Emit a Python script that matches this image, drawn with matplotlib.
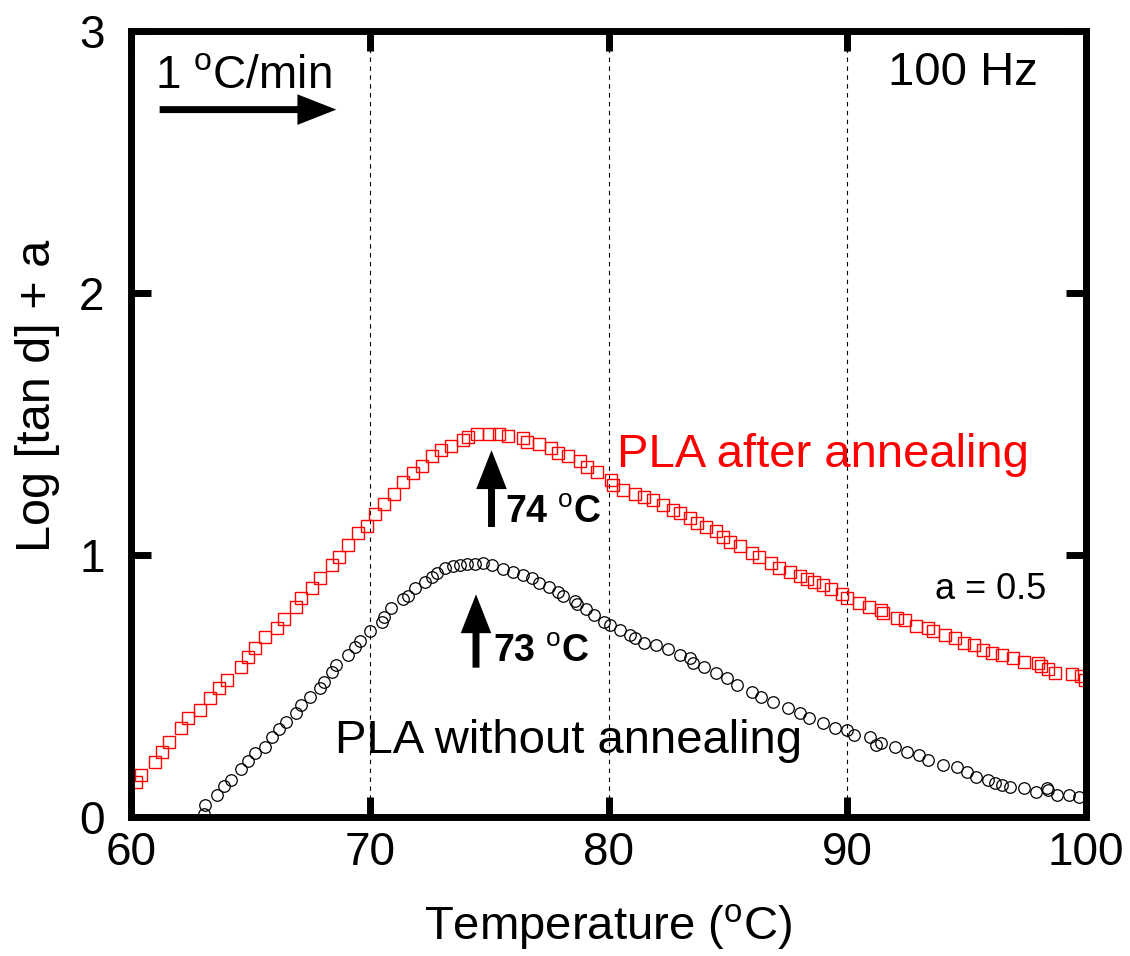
import matplotlib
matplotlib.use("Agg")
import matplotlib.pyplot as plt
import numpy as np

plt.rcParams['font.family'] = ['Liberation Sans', 'DejaVu Sans']
plt.rcParams['mathtext.fontset'] = 'custom'
plt.rcParams['mathtext.rm'] = 'Liberation Sans'
plt.rcParams['mathtext.bf'] = 'Liberation Sans:bold'

# PLA after annealing (red squares), shifted by a = 0.5
temp_after = [60.2, 60.4, 61.0, 61.3, 61.6, 62.1, 62.4, 62.9, 63.3, 63.7, 64.0, 64.6, 64.9,
              65.2, 65.6, 66.1, 66.4, 66.9, 67.1, 67.6, 67.9, 68.4, 68.7, 69.1, 69.5, 69.9,
              70.2, 70.6, 71.0, 71.4, 71.8, 72.2, 72.6, 73.0, 73.4, 73.9, 74.1, 74.5, 75.0,
              75.4, 75.8, 76.4, 76.6, 77.1, 77.6, 77.9, 78.3, 78.8, 79.1, 79.5, 80.1, 80.2,
              80.6, 81.1, 81.5, 81.85, 82.3, 82.7, 83.0, 83.4, 83.7, 84.1, 84.5, 84.8, 85.1,
              85.5, 86.0, 86.3, 86.8, 87.15, 87.6, 88.0, 88.3, 88.6, 89.0, 89.3, 89.8, 89.98,
              90.5, 90.9, 91.4, 91.5, 92.1, 92.4, 92.9, 93.4, 93.6, 94.1, 94.5, 94.9, 95.3,
              95.7, 96.05, 96.5, 96.95, 97.4, 98.0, 98.1, 98.4, 98.7, 99.4, 99.8, 99.95]
tan_after = [0.135, 0.16, 0.21, 0.25, 0.287, 0.339, 0.377, 0.408, 0.453, 0.491, 0.523, 0.574, 0.612,
             0.644, 0.688, 0.72, 0.754, 0.803, 0.835, 0.873, 0.911, 0.962, 0.991, 1.038, 1.083, 1.111,
             1.156, 1.195, 1.232, 1.28, 1.312, 1.34, 1.378, 1.40, 1.416, 1.44, 1.45, 1.46, 1.46,
             1.46, 1.454, 1.445, 1.432, 1.424, 1.407, 1.388, 1.378, 1.36, 1.335, 1.318, 1.286, 1.267,
             1.25, 1.233, 1.223, 1.21, 1.19, 1.172, 1.161, 1.14, 1.123, 1.108, 1.093, 1.07, 1.051,
             1.034, 1.009, 0.994, 0.968, 0.949, 0.936, 0.92, 0.91, 0.898, 0.886, 0.869, 0.851, 0.835,
             0.818, 0.803, 0.79, 0.777, 0.758, 0.752, 0.729, 0.72, 0.711, 0.695, 0.682, 0.663, 0.656,
             0.637, 0.627, 0.618, 0.606, 0.593, 0.587, 0.576, 0.565, 0.551, 0.546, 0.538, 0.523]

# PLA without annealing (black circles)
temp_before = [63.06, 63.1, 63.6, 63.9, 64.2, 64.6, 64.9, 65.2, 65.6, 65.9, 66.2, 66.5, 66.9,
               67.1, 67.5, 67.9, 68.1, 68.4, 68.6, 69.1, 69.4, 69.6, 70.0, 70.5, 70.6, 70.9,
               71.4, 71.6, 71.9, 72.3, 72.6, 72.8, 73.15, 73.5, 73.8, 74.06, 74.4, 74.75, 75.1,
               75.6, 76.0, 76.4, 76.8, 77.1, 77.5, 77.9, 78.1, 78.6, 78.7, 79.06, 79.4, 79.8,
               80.06, 80.5, 80.9, 81.1, 81.5, 82.0, 82.5, 83.0, 83.4, 83.55, 84.0, 84.5, 84.95,
               85.4, 86.0, 86.4, 86.9, 87.5, 88.0, 88.4, 89.0, 89.5, 89.97, 90.3, 90.95, 91.2,
               91.4, 92.0, 92.5, 93.0, 93.4, 94.0, 94.6, 95.0, 95.4, 95.9, 96.2, 96.5, 96.8,
               97.4, 97.9, 98.35, 98.4, 98.8, 99.3, 99.7]
tan_before = [0.01, 0.046, 0.084, 0.118, 0.141, 0.182, 0.214, 0.243, 0.268, 0.304, 0.335, 0.364, 0.398,
              0.427, 0.459, 0.491, 0.516, 0.555, 0.58, 0.618, 0.65, 0.673, 0.711, 0.745, 0.762, 0.797,
              0.831, 0.844, 0.873, 0.898, 0.917, 0.933, 0.949, 0.958, 0.962, 0.966, 0.966, 0.968, 0.962,
              0.947, 0.936, 0.924, 0.911, 0.894, 0.879, 0.86, 0.844, 0.826, 0.813, 0.793, 0.771, 0.745,
              0.733, 0.714, 0.695, 0.682, 0.665, 0.656, 0.64, 0.618, 0.606, 0.589, 0.574, 0.548, 0.529,
              0.504, 0.478, 0.459, 0.44, 0.415, 0.396, 0.377, 0.358, 0.339, 0.332, 0.313, 0.306, 0.275,
              0.281, 0.268, 0.249, 0.237, 0.218, 0.198, 0.192, 0.173, 0.154, 0.141, 0.129, 0.122, 0.116,
              0.11, 0.097, 0.11, 0.103, 0.084, 0.084, 0.077]

x_ticks = [60, 70, 80, 90, 100]
y_ticks = [0, 1, 2, 3]
grid_x = [70, 80, 90]

fig = plt.figure(figsize=(11.3, 9.56), dpi=100)
ax = fig.add_axes([131 / 1130, 1 - 817 / 956, (1086 - 131) / 1130, (817 - 31) / 956])

for gx in grid_x:
    ax.axvline(gx, color='k', lw=0.8, ls=(0, (4, 4)), zorder=0)

ax.plot(temp_after, tan_after, ls='none', marker='s', ms=8.5, mfc='none', mec='red', mew=1.0)
ax.plot(temp_before, tan_before, ls='none', marker='o', ms=8.3, mfc='none', mec='black', mew=0.9)

ax.set_xlim(60, 100)
ax.set_ylim(0, 3)
ax.set_xticks(x_ticks)
ax.set_yticks(y_ticks)
for s in ax.spines.values():
    s.set_linewidth(5)
ax.tick_params(direction='in', length=14.5, width=5, top=True, right=True, labelsize=33)
ax.tick_params(axis='x', pad=10)
ax.tick_params(axis='y', pad=19)

fig.text(38 / 1130, 1 - 396 / 956, 'Log [tan d] + a', rotation=90, ha='center', va='center', fontsize=35)
fig.text(608 / 1130, 1 - 927 / 956, r'Temperature ($^{\rm o}$C)', ha='center', va='center', fontsize=34)

ax.text(80.36, 1.336, 'PLA after annealing', color='red', fontsize=34)
ax.text(68.54, 0.244, 'PLA without annealing', color='black', fontsize=34)
ax.text(93.68, 0.832, 'a = 0.5', fontsize=26)
ax.text(94.85, 2.84, '100 Hz', fontsize=34, ha='center', va='center')
ax.text(61.0, 2.83, r'1 $^{\rm o}$C/min', fontsize=33, va='center')
ax.text(75.66, 1.122, r'74 $^{\rm o}$C', fontsize=27, fontweight='bold')
ax.text(75.16, 0.592, r'73 $^{\rm o}$C', fontsize=27, fontweight='bold')

arrow = dict(arrowstyle='simple,head_length=1.4,head_width=1.1,tail_width=0.25',
             color='k', lw=0, mutation_scale=20, shrinkA=0, shrinkB=0)
ax.annotate('', xy=(68.6, 2.70), xytext=(61.2, 2.70), arrowprops=arrow)
ax.annotate('', xy=(75.1, 1.40), xytext=(75.1, 1.107), arrowprops=arrow)
ax.annotate('', xy=(74.45, 0.85), xytext=(74.45, 0.57), arrowprops=arrow)

fig.savefig('out.png', dpi=100)
